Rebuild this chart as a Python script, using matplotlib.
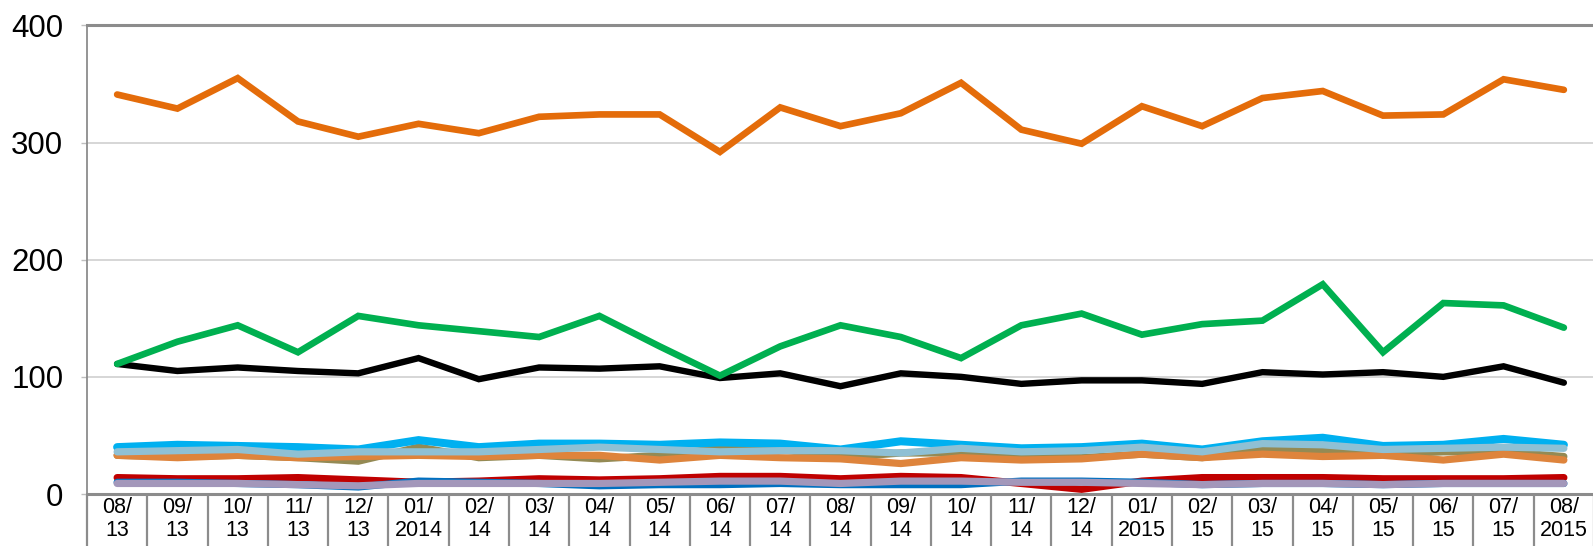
import matplotlib
matplotlib.use("Agg")
import matplotlib.pyplot as plt
import numpy as np

# ============================================================================
# DATA
# ============================================================================

MONTH_LABELS = [
    "08/\n13", "09/\n13", "10/\n13", "11/\n13", "12/\n13",
    "01/\n2014", "02/\n14", "03/\n14", "04/\n14", "05/\n14", "06/\n14",
    "07/\n14", "08/\n14", "09/\n14", "10/\n14", "11/\n14", "12/\n14",
    "01/\n2015", "02/\n15", "03/\n15", "04/\n15", "05/\n15", "06/\n15",
    "07/\n15", "08/\n2015",
]

top_orange = [341, 329, 355, 318, 305, 316, 308, 322, 324, 324, 292, 330, 314,
              325, 351, 311, 299, 331, 314, 338, 344, 323, 324, 354, 345]
green = [111, 130, 144, 121, 152, 144, 139, 134, 152, 126, 101, 126, 144,
         134, 116, 144, 154, 136, 145, 148, 179, 121, 163, 161, 142]
black = [111, 105, 108, 105, 103, 116, 98, 108, 107, 109, 99, 103, 92,
         103, 100, 94, 97, 97, 94, 104, 102, 104, 100, 109, 95]
cyan = [40, 42, 41, 40, 38, 46, 40, 43, 43, 42, 44, 43, 38,
        45, 42, 39, 40, 43, 38, 45, 48, 41, 42, 47, 42]
light_blue = [36, 37, 38, 34, 36, 36, 36, 38, 40, 38, 36, 37, 37,
              35, 39, 36, 37, 40, 36, 43, 42, 38, 39, 40, 39]
olive = [33, 32, 33, 31, 28, 40, 31, 33, 30, 33, 39, 38, 31,
         35, 35, 31, 31, 34, 31, 38, 38, 34, 36, 36, 32]
low_orange = [33, 31, 33, 31, 32, 33, 32, 33, 33, 29, 33, 31, 30,
              26, 31, 29, 30, 34, 31, 34, 32, 33, 29, 34, 29]
red = [14, 13, 13, 14, 12, 10, 11, 13, 12, 13, 15, 15, 13,
       15, 14, 9, 4, 11, 14, 14, 14, 13, 13, 13, 14]
blue = [10, 10, 9, 8, 6, 11, 10, 9, 7, 8, 8, 9, 8,
        8, 8, 11, 11, 10, 8, 9, 9, 8, 9, 9, 9]
purple = [9, 9, 9, 8, 7, 9, 9, 9, 9, 10, 11, 11, 9,
          11, 11, 10, 10, 9, 8, 9, 9, 8, 9, 9, 9]

# drawing order: bottom first
SERIES = [
    (red, '#C00000', 5.2),
    (blue, '#0070C0', 5.2),
    (purple, '#A397BA', 5.2),
    (olive, '#948A54', 5.2),
    (low_orange, '#DE843C', 5.2),
    (cyan, '#00B0F0', 5.8),
    (light_blue, '#8FC0D4', 5.2),
    (black, '#000000', 4.6),
    (green, '#00B050', 4.8),
    (top_orange, '#E46C0A', 4.8),
]

AXIS_GRAY = '#8C8C8C'

# ============================================================================
# PLOT
# ============================================================================

plt.rcParams['font.family'] = ['Liberation Sans', 'DejaVu Sans']

W, H = 1593, 546
fig = plt.figure(figsize=(W / 100, H / 100), dpi=100)
left, right = 87 / W, 1594 / W
bottom, top = (H - 494) / H, (H - 25.4) / H
ax = fig.add_axes([left, bottom, right - left, top - bottom])

x = np.arange(len(MONTH_LABELS))
for values, color, lw in SERIES:
    ax.plot(x, values, color=color, linewidth=lw,
            solid_capstyle='round', solid_joinstyle='miter')

ax.set_xlim(-0.5, len(MONTH_LABELS) - 0.5)
ax.set_ylim(0, 400)
ax.set_yticks([0, 100, 200, 300, 400])
ax.grid(axis='y', color='#D0D0D0', linewidth=1.2)
ax.set_axisbelow(True)

# category labels centred, separators as long minor ticks
ax.set_xticks(x)
ax.set_xticklabels(MONTH_LABELS, fontsize=15.5, linespacing=1.1)
ax.set_xticks(np.arange(-0.5, len(MONTH_LABELS)), minor=True)
ax.tick_params(axis='x', which='major', length=0, pad=2.5)
ax.tick_params(axis='x', which='minor', length=45, width=1.6, color=AXIS_GRAY)
ax.tick_params(axis='y', labelsize=22.5, length=4, width=1.0,
               color='#BFBFBF', pad=13)

for side in ['left', 'bottom', 'top']:
    ax.spines[side].set_color(AXIS_GRAY)
ax.spines['left'].set_linewidth(1.3)
ax.spines['bottom'].set_linewidth(2.2)
ax.spines['top'].set_linewidth(2.2)
ax.spines['right'].set_visible(False)

fig.savefig('out.png', dpi=100)
